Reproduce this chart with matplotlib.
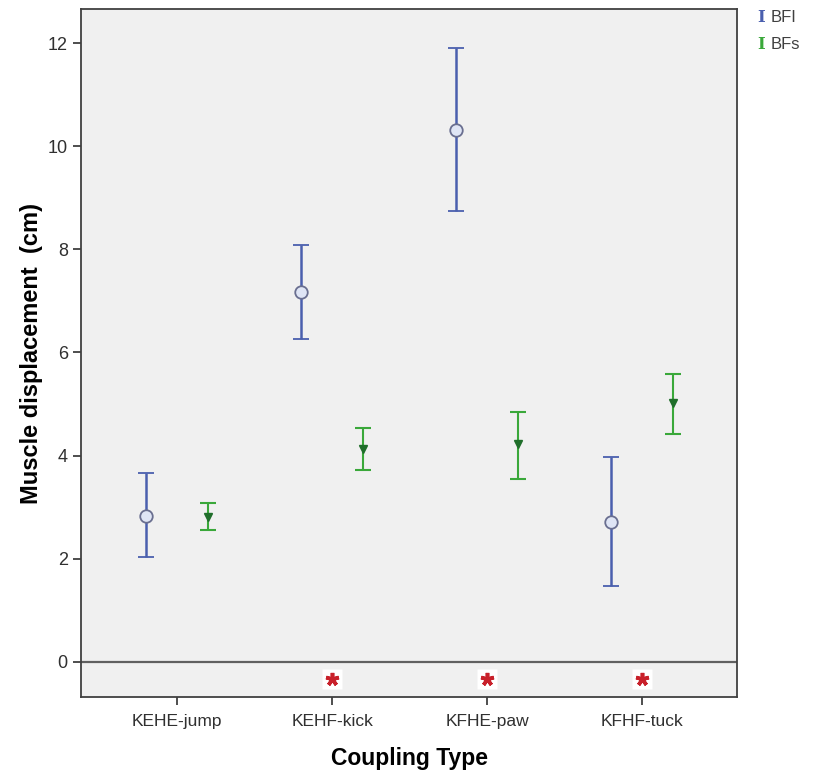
import matplotlib
matplotlib.use("Agg")
import matplotlib.pyplot as plt
import numpy as np

plt.rcParams['font.family'] = ['Liberation Sans', 'DejaVu Sans']

categories = ["KEHE-jump", "KEHF-kick", "KFHE-paw", "KFHF-tuck"]
bfl_mean = [2.83, 7.17, 10.31, 2.71]
bfl_low = [2.03, 6.26, 8.74, 1.47]
bfl_high = [3.66, 8.08, 11.90, 3.97]
bfs_mean = [2.81, 4.13, 4.22, 5.02]
bfs_low = [2.56, 3.72, 3.55, 4.42]
bfs_high = [3.08, 4.53, 4.84, 5.58]
significant = [False, True, True, True]
y_ticks = [0, 2, 4, 6, 8, 10, 12]

blue = "#4a5fae"
green = "#3aa83a"
dark_green = "#1f6e2a"

fig = plt.figure(figsize=(8.13, 7.75), dpi=100)
ax = fig.add_axes([0.0996, 0.1006, 0.807, 0.8878])
ax.set_facecolor("#f0f0f0")

x = np.arange(len(categories))
off = 0.2

def err(mean, low, high):
    m = np.array(mean); lo = np.array(low); hi = np.array(high)
    return np.vstack([m - lo, hi - m])

ax.errorbar(x - off, bfl_mean, yerr=err(bfl_mean, bfl_low, bfl_high),
            fmt='o', color=blue, ecolor=blue, elinewidth=1.8, capsize=6,
            capthick=1.8, markersize=9, markerfacecolor="#dfe5f5",
            markeredgecolor="#6a6f90", markeredgewidth=1.3, zorder=3)
ax.errorbar(x + off, bfs_mean, yerr=err(bfs_mean, bfs_low, bfs_high),
            fmt='v', color=green, ecolor=green, elinewidth=1.5, capsize=5.5,
            capthick=1.5, markersize=6, markerfacecolor=dark_green,
            markeredgecolor=dark_green, zorder=3)

ax.axhline(0, color="#606060", linewidth=1.6, zorder=2)

# significance markers below the zero line
sig_x = [xi for xi, sig in zip(x, significant) if sig]
sig_y = [-0.33] * len(sig_x)
ax.plot(sig_x, sig_y, linestyle='none', marker='s', markersize=15,
        markerfacecolor='white', markeredgecolor='none', zorder=4)
ax.plot(sig_x, sig_y, linestyle='none', marker=(5, 2, 0), markersize=9.5,
        markeredgecolor="#c8202a", markeredgewidth=2.6, zorder=5)

ax.set_xlim(-0.62, 3.61)
ax.set_ylim(-0.68, 12.66)
ax.set_xticks(x)
ax.set_xticklabels(categories, fontsize=12.5, color="#303030")
ax.set_yticks(y_ticks)
ax.set_yticklabels([str(t) for t in y_ticks], fontsize=13, color="#303030")
ax.tick_params(axis='both', direction='out', length=6, width=1.2, color="#303030")
ax.tick_params(axis='x', pad=6)
for s in ax.spines.values():
    s.set_color("#404040")
    s.set_linewidth(1.3)

ax.set_xlabel("Coupling Type", fontsize=16.5, fontweight='bold', labelpad=13)
ax.set_ylabel("Muscle displacement  (cm)", fontsize=17, fontweight='bold', labelpad=3)

# legend to the right of the plot area
fig.text(0.9365, 0.977, "I", color=blue, fontsize=12, fontweight='bold',
         family='DejaVu Serif', ha='center', va='center')
fig.text(0.948, 0.977, "BFI", color="#404040", fontsize=12, va='center')
fig.text(0.9365, 0.943, "I", color=green, fontsize=12, fontweight='bold',
         family='DejaVu Serif', ha='center', va='center')
fig.text(0.948, 0.943, "BFs", color="#404040", fontsize=12, va='center')

fig.savefig("out.png", dpi=100, facecolor="white")
